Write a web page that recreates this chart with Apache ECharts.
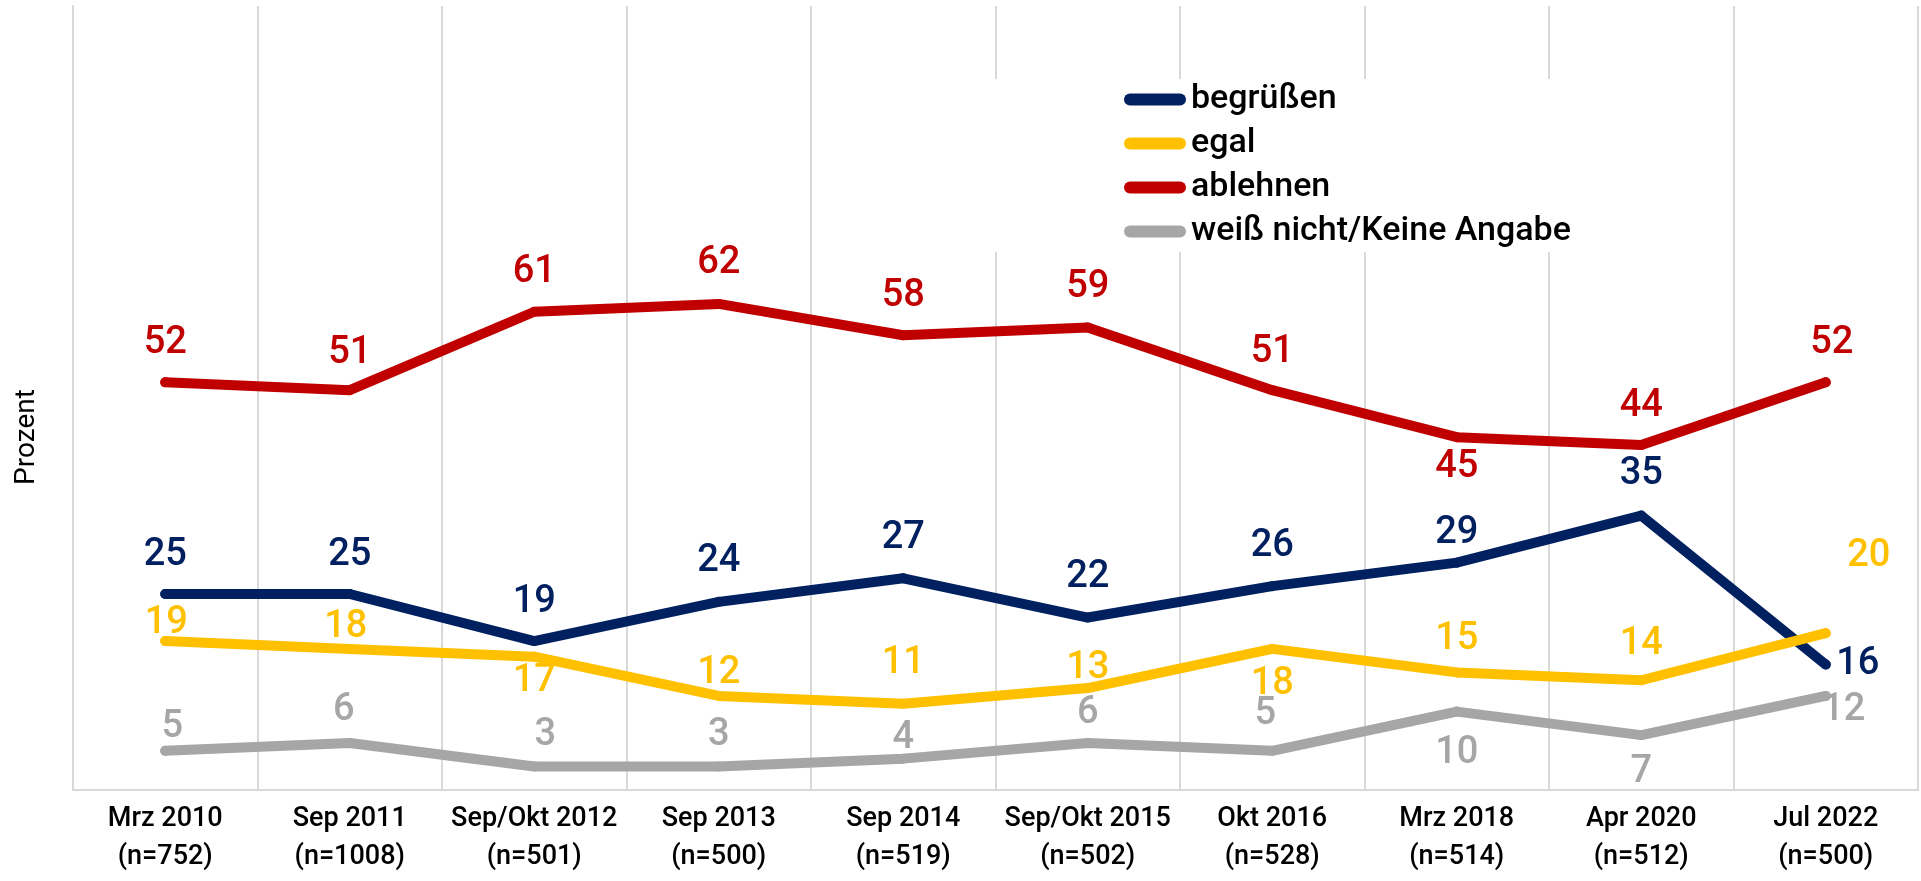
<!DOCTYPE html>
<html>
    <head>
        <meta charset="utf-8">
        <title>Prozent</title>
        <script src="https://cdn.jsdelivr.net/npm/echarts@6/dist/echarts.min.js"></script>
        <style>
            html, body { margin: 0; padding: 0; background: #fff; }
            #chart1 { width: 1921px; height: 881px; }
        </style>
    </head>
    <body>
        <div id="chart1"></div>
        <script type="text/javascript">
            // Erhebungszeitpunkte und Fallzahlen
            var periods = ['Mrz 2010', 'Sep 2011', 'Sep/Okt 2012', 'Sep 2013', 'Sep 2014', 'Sep/Okt 2015', 'Okt 2016', 'Mrz 2018', 'Apr 2020', 'Jul 2022'];
            var sampleSizes = [752, 1008, 501, 500, 519, 502, 528, 514, 512, 500];

            // Werte in Prozent
            var begruessen = [25, 25, 19, 24, 27, 22, 26, 29, 35, 16];
            var egal = [19, 18, 17, 12, 11, 13, 18, 15, 14, 20];
            var ablehnen = [52, 51, 61, 62, 58, 59, 51, 45, 44, 52];
            var weissNicht = [5, 6, 3, 3, 4, 6, 5, 10, 7, 12];

            var categories = periods.map(function (p, i) {
                return p + '\n(n=' + sampleSizes[i] + ')';
            });

            // Lage der Beschriftungen relativ zum Punkt (px)
            var offsBegruessen = [[0,-39],[0,-39],[0,-39],[0,-40],[0,-40],[0,-40],[0,-40],[0,-29],[0,-41],[32,0]];
            var offsEgal = [[1,-18],[-4,-21],[0,25],[0,-22],[0,-40],[0,-20],[0,36],[0,-33],[0,-36],[43,-77]];
            var offsAblehnen = [[0,-39],[0,-37],[0,-39],[0,-40],[0,-39],[0,-40],[0,-38],[0,30],[0,-39],[6,-39]];
            var offsWeiss = [[7,-23],[-6,-32],[11,-31],[0,-31],[0,-20],[0,-29],[-7,-36],[0,42],[0,37],[18,15]];

            var FONT = 'Roboto';

            function makeSeries(name, values, offsets, color) {
                return {
                    name: name,
                    type: 'line',
                    data: values.map(function (v, i) {
                        return { value: v, label: { offset: offsets[i] } };
                    }),
                    symbol: 'circle',
                    symbolSize: 10,
                    itemStyle: { color: color },
                    lineStyle: { color: color, width: 10, cap: 'round', join: 'round' },
                    label: {
                        show: true,
                        position: 'inside',
                        color: color,
                        fontFamily: FONT,
                        fontSize: 38,
                        fontWeight: 500
                    },
                    emphasis: { disabled: true },
                    animation: false
                };
            }

            var legendIcon = 'path://M6,0H56A6,6,0,0,1,56,12H6A6,6,0,0,1,6,0Z';

            var myChart1 = echarts.init(document.getElementById('chart1'));
            myChart1.setOption({
                backgroundColor: '#ffffff',
                animation: false,
                grid: { left: 73, right: 3, top: 6, bottom: 91 },
                legend: {
                    orient: 'vertical',
                    left: 989,
                    top: 79,
                    padding: [0, 140, 0, 135],
                    backgroundColor: '#ffffff',
                    itemWidth: 62,
                    itemHeight: 12,
                    itemGap: 3,
                    icon: legendIcon,
                    textStyle: { fontFamily: FONT, fontSize: 34, fontWeight: 500, color: '#000', lineHeight: 41 },
                    z: 3,
                    data: ['begrüßen', 'egal', 'ablehnen', 'weiß nicht/Keine Angabe']
                },
                xAxis: {
                    type: 'category',
                    data: categories,
                    boundaryGap: true,
                    axisLine: { lineStyle: { color: '#d9d9d9', width: 2 } },
                    axisTick: { show: false },
                    splitLine: { show: true, lineStyle: { color: '#d9d9d9', width: 2 } },
                    axisLabel: {
                        interval: 0,
                        margin: 10,
                        color: '#000',
                        fontFamily: FONT,
                        fontSize: 27,
                        fontWeight: 500,
                        lineHeight: 38
                    }
                },
                yAxis: {
                    type: 'value',
                    min: 0,
                    max: 100,
                    interval: 20,
                    axisLine: { show: true, lineStyle: { color: '#d9d9d9', width: 2 } },
                    axisLabel: { show: false },
                    axisTick: { show: false },
                    splitLine: { show: false }
                },
                graphic: [{
                    type: 'text',
                    x: 27,
                    y: 437,
                    rotation: Math.PI / 2,
                    style: {
                        text: 'Prozent',
                        fill: '#000',
                        font: '400 28px Roboto',
                        align: 'center',
                        verticalAlign: 'middle'
                    }
                }],
                series: [
                    makeSeries('begrüßen', begruessen, offsBegruessen, '#002060'),
                    makeSeries('egal', egal, offsEgal, '#FFC000'),
                    makeSeries('ablehnen', ablehnen, offsAblehnen, '#C00000'),
                    makeSeries('weiß nicht/Keine Angabe', weissNicht, offsWeiss, '#A6A6A6')
                ]
            });
        </script>
    </body>
</html>
